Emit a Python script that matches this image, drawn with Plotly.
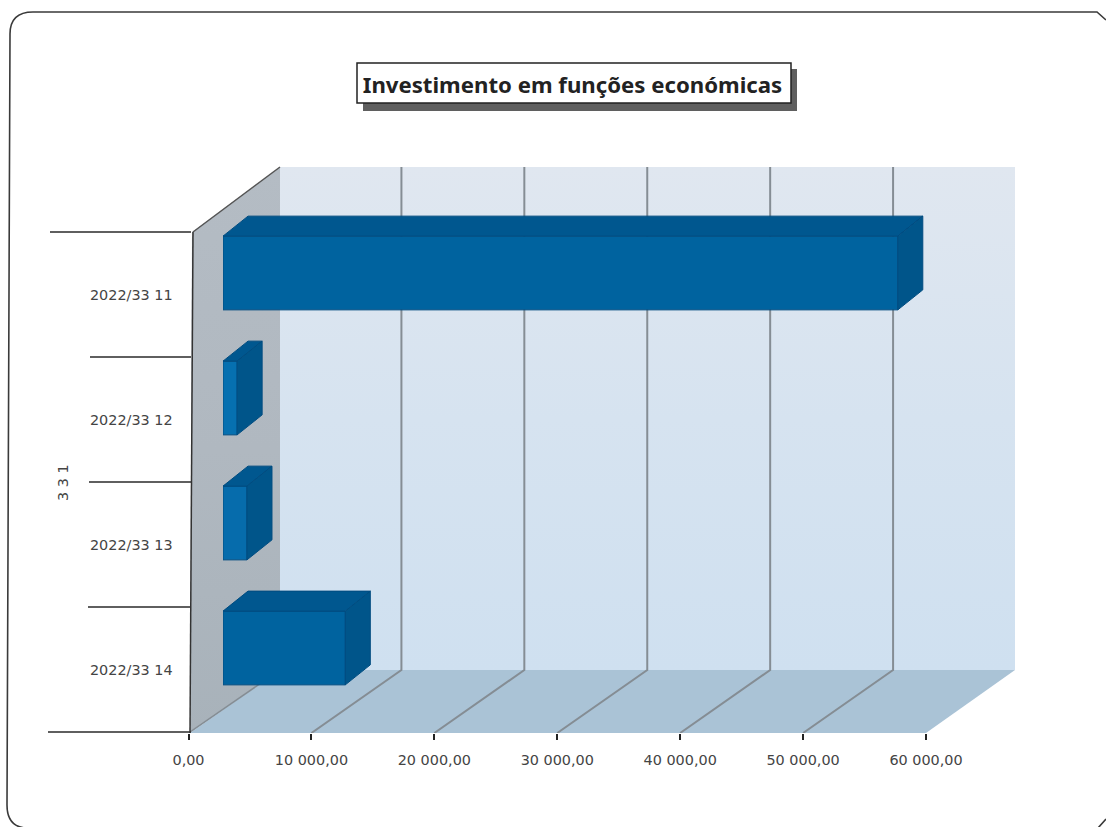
import plotly.graph_objects as go

# ---- data ----
CATEGORIES = ["2022/33 11", "2022/33 12", "2022/33 13", "2022/33 14"]
VALUES = [54900, 1150, 1950, 9950]
X_TICKS = [0, 10000, 20000, 30000, 40000, 50000, 60000]
GROUP_LABEL = "3 3 1"
TITLE = "Investimento em funções económicas"

# ---- page geometry ----
W, H = 1106, 827
X0_PX, X60_PX = 188.5, 926.0
RIGHT_PX = 1015.0
BAND_PX = 125.0
Y_TOP_FRONT = 232.0
WALL_TOP_PX, FLOOR_BACK_PX, FLOOR_FRONT_PX = 167.0, 670.0, 733.0
BACK_DX_PX = 90.0
BAR_DX_PX, BAR_DY_PX = 34.5, 21.5
DEPTH_X_PX, DEPTH_Y_PX = 25.0, 20.0
BAR_WIDTH = 0.59

PX_PER_X = (X60_PX - X0_PX) / 60000.0
def xd(px): return (px - X0_PX) / PX_PER_X
def yd(px): return (px - Y_TOP_FRONT) / BAND_PX - 0.5
def xp(px): return px / W
def yp(px): return 1 - px / H

X_MAX = xd(RIGHT_PX)
Y_RANGE = [yd(FLOOR_FRONT_PX), yd(WALL_TOP_PX)]
positions = list(range(len(CATEGORIES)))

fig = go.Figure()

def poly(xs, ys, color=None, grad=None, xaxis="x", yaxis="y", line=None):
    kw = dict(fillgradient=grad) if grad else dict(fillcolor=color)
    fig.add_trace(go.Scatter(x=xs + xs[:1], y=ys + ys[:1], mode="lines", fill="toself",
                             line=line or dict(width=0), xaxis=xaxis, yaxis=yaxis,
                             hoverinfo="skip", showlegend=False, cliponaxis=False, **kw))

# back wall
poly([xd(280), xd(RIGHT_PX), xd(RIGHT_PX), xd(280)],
     [yd(WALL_TOP_PX), yd(WALL_TOP_PX), yd(FLOOR_BACK_PX), yd(FLOOR_BACK_PX)],
     grad=dict(type="vertical", colorscale=[[0, "#cfe0f0"], [0.5, "#d6e3f0"], [1, "#e0e7f0"]]))
# side wall
poly([xd(192), xd(280), xd(280), xd(190)],
     [yd(Y_TOP_FRONT), yd(WALL_TOP_PX), yd(FLOOR_BACK_PX), yd(FLOOR_FRONT_PX)],
     grad=dict(type="vertical", colorscale=[[0, "#a8b2ba"], [0.5, "#b0b8c0"], [1, "#b4bcc4"]]))
# floor
poly([xd(190), xd(X60_PX), xd(RIGHT_PX), xd(280)],
     [yd(FLOOR_FRONT_PX), yd(FLOOR_FRONT_PX), yd(FLOOR_BACK_PX), yd(FLOOR_BACK_PX)],
     color="#aac3d6")

# gridlines: along the back wall and across the floor, one per tick
GRID = "#858d94"
for t in X_TICKS[1:-1]:
    front = t
    back = t + BACK_DX_PX / PX_PER_X
    fig.add_trace(go.Scatter(x=[front, back, back], y=[yd(FLOOR_FRONT_PX), yd(FLOOR_BACK_PX), yd(WALL_TOP_PX)],
                             mode="lines", line=dict(color=GRID, width=2), hoverinfo="skip", showlegend=False))
fig.add_trace(go.Scatter(x=[0, xd(280)], y=[yd(FLOOR_FRONT_PX), yd(FLOOR_BACK_PX)], mode="lines",
                         line=dict(color=GRID, width=1.5), hoverinfo="skip", showlegend=False))

# bars on a second pair of axes with the same scale, moved into the box
FRONT_COLORS = ["#00639f", "#0670b0", "#066cac", "#00639f"]
fig.add_trace(go.Bar(x=VALUES, y=positions, orientation="h", width=BAR_WIDTH, xaxis="x2", yaxis="y2",
                     marker=dict(color=FRONT_COLORS, line=dict(color="#004c80", width=1)),
                     showlegend=False, hoverinfo="x+y"))
dx = DEPTH_X_PX / PX_PER_X
dy = DEPTH_Y_PX / BAND_PX
edge = dict(color="#004c80", width=1)
for p, v in zip(positions, VALUES):
    top, bottom = p - BAR_WIDTH / 2, p + BAR_WIDTH / 2
    poly([0, v, v + dx, dx], [top, top, top - dy, top - dy], color="#00578f", xaxis="x2", yaxis="y2", line=edge)
    poly([v, v + dx, v + dx, v], [top, top - dy, bottom - dy, bottom], color="#00558a", xaxis="x2", yaxis="y2", line=edge)

AXIS_FONT = dict(family="DejaVu Sans", size=14.4, color="#444444")
xaxis_cfg = dict(range=[0, X_MAX], domain=[xp(X0_PX), xp(RIGHT_PX)], tickvals=X_TICKS, tickformat=",.2f",
                 ticks="outside", ticklen=6, tickwidth=2, tickcolor="#222222", showgrid=False, zeroline=False,
                 showline=False, tickfont=AXIS_FONT, ticklabelstandoff=8, automargin=False)
yaxis_cfg = dict(range=Y_RANGE, domain=[yp(FLOOR_FRONT_PX), yp(WALL_TOP_PX)], tickvals=positions,
                 ticktext=CATEGORIES, ticks="outside", ticklen=12, tickcolor="rgba(0,0,0,0)", showgrid=False,
                 zeroline=False, showline=False, tickfont=AXIS_FONT, automargin=False)

shapes = []
# chart frame
frame = (f"M {xp(1106)} {yp(20)} L {xp(1097)} {yp(12)} L {xp(33)} {yp(12)} "
         f"Q {xp(10)} {yp(12)} {xp(10)} {yp(34)} L {xp(7)} {yp(805)} Q {xp(7)} {yp(826)} {xp(25)} {yp(828)} "
         f"M {xp(1098)} {yp(828)} L {xp(1106)} {yp(819)}")
shapes.append(dict(type="path", path=frame, xref="paper", yref="paper", line=dict(color="#3a3a3a", width=1.6)))
# title box and its shadow
shapes.append(dict(type="rect", xref="paper", yref="paper", x0=xp(363), x1=xp(797), y0=yp(69), y1=yp(111),
                   fillcolor="#5f5f5f", line=dict(width=0)))
shapes.append(dict(type="rect", xref="paper", yref="paper", x0=xp(357), x1=xp(791), y0=yp(63), y1=yp(103),
                   fillcolor="#ffffff", line=dict(color="#222222", width=1.5)))
# category separators
for b, left in zip([-0.5, 0.5, 1.5, 2.5, 3.5], [50, 90, 89, 88, 48]):
    shapes.append(dict(type="line", xref="paper", yref="y", x0=xp(left), x1=xp(191), y0=b, y1=b,
                       line=dict(color="#2a2a2a", width=1.5)))
shapes.append(dict(type="line", xref="paper", yref="paper", x0=xp(193), x1=xp(190), y0=yp(232), y1=yp(733),
                   line=dict(color="#333333", width=1.5), layer="above"))
shapes.append(dict(type="line", xref="paper", yref="paper", x0=xp(193), x1=xp(280), y0=yp(232), y1=yp(167),
                   line=dict(color="#555555", width=1.5), layer="above"))

fig.update_layout(
    width=W, height=H, margin=dict(l=0, r=0, t=0, b=0), autosize=False,
    paper_bgcolor="white", plot_bgcolor="rgba(0,0,0,0)", separators=", ", showlegend=False,
    title=dict(text=f"<b>{TITLE}</b>", x=xp(572.5), xanchor="center", y=yp(85), yanchor="middle",
               font=dict(family="Noto Sans", size=22.2, color="#222222")),
    xaxis=xaxis_cfg, yaxis=yaxis_cfg,
    xaxis2=dict(range=[0, X_MAX], domain=[xp(X0_PX + BAR_DX_PX), xp(RIGHT_PX + BAR_DX_PX)],
                anchor="y2", visible=False),
    yaxis2=dict(range=Y_RANGE, domain=[yp(FLOOR_FRONT_PX - BAR_DY_PX), yp(WALL_TOP_PX - BAR_DY_PX)],
                anchor="x2", visible=False),
    shapes=shapes,
    annotations=[dict(text=GROUP_LABEL, x=xp(63), y=yp(483), xref="paper", yref="paper", showarrow=False,
                      xanchor="center", yanchor="middle", textangle=-90, font=AXIS_FONT)],
)

fig.write_html("out.html", config=dict(displayModeBar=False),
               post_script="document.body.style.margin='0';document.body.style.overflow='hidden';")
